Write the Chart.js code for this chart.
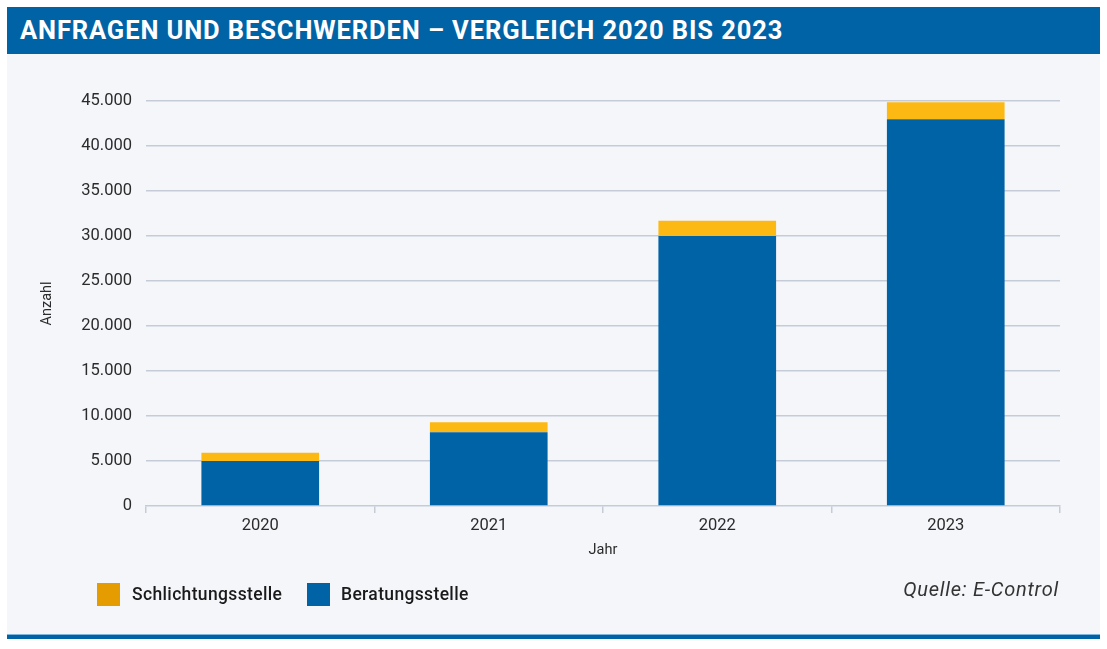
<!DOCTYPE html>
<html>
<head>
<meta charset="utf-8">
<script src="https://cdn.jsdelivr.net/npm/chart.js@4"></script>
<style>
  html,body{margin:0;padding:0;background:#ffffff;}
  #wrap{position:relative;width:1107px;height:649px;overflow:hidden;font-family:Roboto,"Open Sans",sans-serif;}
  #header{position:absolute;left:7px;top:7px;width:1093px;height:47px;background:#0063A6;}
  #title{position:absolute;left:13px;top:8px;color:#fff;font-weight:700;font-size:25.5px;letter-spacing:0.9px;line-height:30px;white-space:nowrap;}
  #panel{position:absolute;left:7px;top:54px;width:1093px;height:580px;background:#F4F6FA;}
  #bottomline{position:absolute;left:7px;top:634px;width:1093px;height:5px;background:#0063A6;border-top:1px solid #7FB6DE;box-sizing:border-box;}
  #chartbox{position:absolute;left:0;top:0;width:1107px;height:649px;}
  .sw{position:absolute;width:23px;height:23px;top:583px;}
  .lt{position:absolute;top:582px;font-size:17.5px;letter-spacing:0.35px;font-weight:500;color:#1a1a1a;line-height:24px;white-space:nowrap;}
  #src{position:absolute;right:48px;top:576px;font-size:20px;letter-spacing:0.75px;font-style:italic;color:#333;line-height:26px;white-space:nowrap;}
</style>
</head>
<body>
<div id="wrap">
  <div id="header"><div id="title">ANFRAGEN UND BESCHWERDEN – VERGLEICH 2020 BIS 2023</div></div>
  <div id="panel"></div>
  <div id="bottomline"></div>
  <div id="chartbox"><canvas id="c" width="1107" height="649"></canvas></div>
  <div class="sw" style="left:97px;background:#E59C00"></div>
  <div class="lt" style="left:132px">Schlichtungsstelle</div>
  <div class="sw" style="left:307px;background:#0063A6"></div>
  <div class="lt" style="left:341px">Beratungsstelle</div>
  <div id="src">Quelle: E-Control</div>
</div>
<script>
const categories = ["2020", "2021", "2022", "2023"];
const beratungsstelle = [5000, 8190, 30000, 42970];
const schlichtungsstelle = [920, 1110, 1700, 1890];
const yTicks = [0, 5000, 10000, 15000, 20000, 25000, 30000, 35000, 40000, 45000];

const gridCol = "#C6CCD7";
new Chart(document.getElementById("c"), {
  type: "bar",
  data: {
    labels: categories,
    datasets: [
      { label: "Beratungsstelle", data: beratungsstelle, backgroundColor: "#0063A6", categoryPercentage: 1, barPercentage: 0.515, borderWidth: 0 },
      { label: "Schlichtungsstelle", data: schlichtungsstelle, backgroundColor: "#FDB913", categoryPercentage: 1, barPercentage: 0.515, borderWidth: 0 }
    ]
  },
  options: {
    responsive: false,
    animation: false,
    devicePixelRatio: 1,
    layout: { padding: { left: 7, right: 47, top: 101, bottom: 79 } },
    plugins: { legend: { display: false }, tooltip: { enabled: false } },
    scales: {
      x: {
        stacked: true,
        grid: { offset: true, drawOnChartArea: false, drawTicks: true, tickLength: 7, color: gridCol, lineWidth: 1.5 },
        border: { display: true, color: gridCol, width: 1.5 },
        ticks: { color: "#2b2b2b", font: { family: "Roboto", size: 16.5 }, padding: 3 },
        title: { display: true, text: "Jahr", color: "#2b2b2b", font: { family: "Roboto", size: 14.5 }, padding: { top: 0, bottom: 11 } },
        afterFit: (s) => { s.height = 64; }
      },
      y: {
        stacked: true,
        min: 0, max: 45000,
        afterBuildTicks: (s) => { s.ticks = yTicks.map(v => ({ value: v })); },
        grid: { drawTicks: false, color: (ctx) => ctx.tick && ctx.tick.value === 0 ? "rgba(0,0,0,0)" : gridCol, lineWidth: 1.5 },
        border: { display: false },
        ticks: { color: "#2b2b2b", font: { family: "Roboto", size: 16.5 }, padding: 14, callback: (v) => v.toLocaleString("de-DE") },
        title: { display: true, text: "Anzahl", color: "#2b2b2b", font: { family: "Roboto", size: 14.5 }, padding: { top: 32, bottom: 0 } },
        afterFit: (s) => { s.width = 139; }
      }
    }
  }
});
</script>
</body>
</html>
